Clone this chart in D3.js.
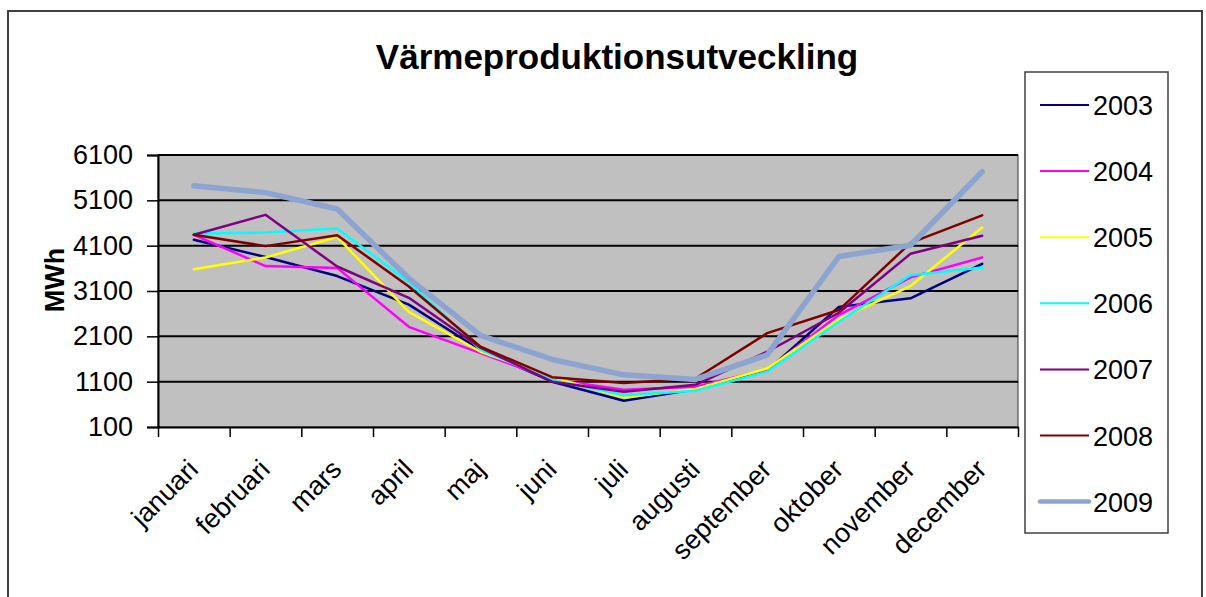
<!DOCTYPE html>
<html lang="sv">
<head>
<meta charset="utf-8">
<title>Värmeproduktionsutveckling</title>
<script src="https://cdn.jsdelivr.net/npm/d3@7"></script>
<style>
  * { margin: 0; padding: 0; box-sizing: border-box; }
  body { background: #fff; width: 1206px; height: 597px; overflow: hidden; font-family: "Liberation Sans", Arial, sans-serif; }
  svg { display: block; }
</style>
</head>
<body>
<svg id="chart" width="1206" height="597"></svg>
<script>
const months = ["januari", "februari", "mars", "april", "maj", "juni", "juli", "augusti", "september", "oktober", "november", "december"];
const years = ["2003", "2004", "2005", "2006", "2007", "2008", "2009"];
const yTicks = [100, 1100, 2100, 3100, 4100, 5100, 6100];

const v2003 = [4230, 3850, 3430, 2800, 1800, 1100, 680, 930, 1340, 2750, 2940, 3700];
const v2004 = [4340, 3650, 3610, 2310, 1730, 1150, 920, 990, 1370, 2570, 3400, 3840];
const v2005 = [3580, 3840, 4290, 2640, 1760, 1200, 750, 940, 1390, 2480, 3210, 4500];
const v2006 = [4370, 4390, 4480, 3300, 1800, 1140, 800, 900, 1320, 2420, 3450, 3620];
const v2007 = [4340, 4780, 3640, 2950, 1850, 1100, 880, 1030, 1760, 2620, 3920, 4320];
const v2008 = [4340, 4090, 4330, 3200, 1870, 1200, 1070, 1170, 2170, 2680, 4160, 4770];
const v2009 = [5420, 5270, 4910, 3380, 2120, 1590, 1250, 1150, 1690, 3860, 4110, 5730];

const seriesValues = [v2003, v2004, v2005, v2006, v2007, v2008, v2009];
const colors = ["#000080", "#ff00ff", "#ffff00", "#00ffff", "#800080", "#800000", "#8ea4d0"];
const widths = [2.5, 2.5, 2.5, 2.5, 2.5, 2.5, 5.5];

const svg = d3.select("#chart");
const plot = { left: 158, right: 1018, top: 155, bottom: 427 };

// outer chart frame
svg.append("rect")
  .attr("x", 8).attr("y", 11).attr("width", 1194).attr("height", 600)
  .attr("fill", "#fff").attr("stroke", "#404040").attr("stroke-width", 2);

svg.append("text")
  .attr("x", 617).attr("y", 69)
  .attr("text-anchor", "middle")
  .attr("font-size", 35).attr("font-weight", "bold")
  .text("Värmeproduktionsutveckling");

const x = d3.scaleBand().domain(months).range([plot.left, plot.right]).padding(0);
const xEdge = d3.scaleLinear().domain([0, months.length]).range([plot.left, plot.right]);
const y = d3.scaleLinear().domain([100, 6100]).range([plot.bottom, plot.top]);

svg.append("rect")
  .attr("x", plot.left).attr("y", plot.top)
  .attr("width", plot.right - plot.left).attr("height", plot.bottom - plot.top)
  .attr("fill", "#c0c0c0").attr("stroke", "#333").attr("stroke-width", 1);

// grid lines
svg.append("g")
  .selectAll("line")
  .data(yTicks.slice(1))
  .join("line")
  .attr("x1", plot.left).attr("x2", plot.right)
  .attr("y1", d => y(d)).attr("y2", d => y(d))
  .attr("stroke", "#000").attr("stroke-width", 2);

// y axis
const yAxis = svg.append("g")
  .attr("transform", `translate(${plot.left},0)`)
  .call(d3.axisLeft(y).tickValues(yTicks).tickFormat(d3.format("d")).tickSize(11).tickPadding(14));
yAxis.select(".domain").attr("stroke", "#000").attr("stroke-width", 2);
yAxis.selectAll(".tick line").attr("stroke", "#000").attr("stroke-width", 1.5);
yAxis.selectAll("text").attr("font-size", 27).attr("font-family", "Liberation Sans, Arial, sans-serif").attr("fill", "#000");

svg.append("text")
  .attr("transform", "translate(64,280) rotate(-90)")
  .attr("text-anchor", "middle")
  .attr("font-size", 27).attr("font-weight", "bold")
  .text("MWh");

// x axis: ticks at category edges
const xTickAxis = svg.append("g")
  .attr("transform", `translate(0,${plot.bottom})`)
  .call(d3.axisBottom(xEdge).tickValues(d3.range(months.length + 1)).tickFormat("").tickSize(10).tickSizeOuter(0));
xTickAxis.select(".domain").attr("stroke", "#000").attr("stroke-width", 2);
xTickAxis.selectAll(".tick line").attr("stroke", "#000").attr("stroke-width", 1.5);

const xLabels = svg.append("g")
  .attr("transform", `translate(0,${plot.bottom})`)
  .call(d3.axisBottom(x).tickSize(0).tickPadding(0));
xLabels.select(".domain").remove();
xLabels.selectAll("text")
  .attr("font-size", 27).attr("font-family", "Liberation Sans, Arial, sans-serif").attr("fill", "#000")
  .attr("text-anchor", "end")
  .attr("dy", null).attr("y", 0)
  .attr("transform", "translate(6,44) rotate(-45)");

// series
const line = d3.line()
  .x((d, i) => x(months[i]) + x.bandwidth() / 2)
  .y(d => y(d));

svg.append("g")
  .selectAll("path")
  .data(seriesValues)
  .join("path")
  .attr("d", d => line(d))
  .attr("fill", "none")
  .attr("stroke", (d, i) => colors[i])
  .attr("stroke-width", (d, i) => widths[i])
  .attr("stroke-linejoin", "round")
  .attr("stroke-linecap", "round");

// legend
const legend = svg.append("g");
legend.append("rect")
  .attr("x", 1025).attr("y", 72).attr("width", 143).attr("height", 461)
  .attr("fill", "#fff").attr("stroke", "#404040").attr("stroke-width", 1.5);

const item = legend.selectAll("g.item")
  .data(years)
  .join("g")
  .attr("class", "item")
  .attr("transform", (d, i) => `translate(0,${105 + i * 66.1})`);
item.append("line")
  .attr("x1", 1040).attr("x2", 1089)
  .attr("stroke", (d, i) => colors[i])
  .attr("stroke-width", (d, i) => i === years.length - 1 ? 4.5 : 2)
  .attr("stroke-linecap", (d, i) => i === years.length - 1 ? "round" : "butt");
item.append("text")
  .attr("x", 1093).attr("y", 10)
  .attr("font-size", 27)
  .text(d => d);
</script>
</body>
</html>
